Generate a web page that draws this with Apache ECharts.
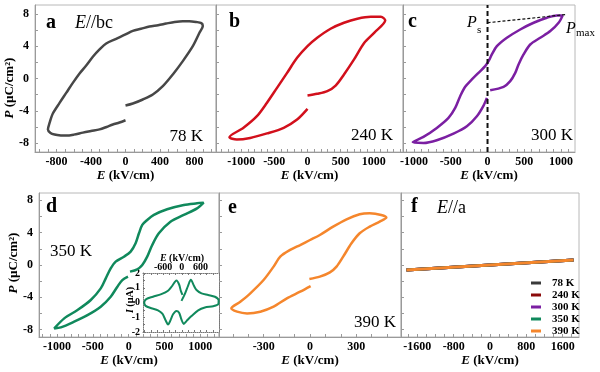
<!DOCTYPE html>
<html><head><meta charset="utf-8">
<script src="https://cdn.jsdelivr.net/npm/echarts@6/dist/echarts.min.js"></script>
<style>html,body{margin:0;padding:0;background:#fff}#c{width:600px;height:372px}</style>
</head><body><div id="c"></div>
<script>
// ---------- data ----------
// panel a (78 K, E//bc)
const aE = [0,85,201,317,433,549,665,781,858,897, 880,819,740,665,570,471,378,278,180,85, 0,-108,-224,-301,-379,-456,-533,-611,-688,-765,-843,-881,-900, -870,-823,-750,-688,-600,-495,-400,-301,-220,-147,-70,0];
const aP = [-3.35,-3.1,-2.6,-1.98,-0.95,0.5,2.15,4.0,5.66,6.5, 6.85,7.0,7.1,7.1,7.0,6.8,6.6,6.45,6.15,5.9, 5.45,4.92,4.34,3.6,2.69,1.61,0.62,-0.54,-1.78,-3.02,-4.34,-5.5,-6.32, -6.75,-6.94,-7.05,-7.07,-6.95,-6.7,-6.5,-6.3,-6.0,-5.7,-5.45,-5.17];
// panel b (240 K)
const bE = [0,146,298,424,550,702,854,1005,1172, 1106,955,752,550,348,146,0,-157,-308,-460,-611,-763,-965,-1177, -1066,-864,-611,-359,-157,0];
const bP = [-2.1,-1.9,-1.57,-0.87,0.5,2.36,4.4,5.66,7.2, 7.64,7.64,7.4,6.9,6.16,5.04,4.0,2.56,0.7,-1.16,-3.0,-4.67,-6.1,-7.27, -7.56,-7.36,-6.8,-6.1,-5.08,-3.76];
// panel c (300 K)
const cE = [36,218,309,377,422,490,581,717,854,967,1022, 944,808,627,445,263,127,59,14,-32,-123,-213,-304,-372,-440,-531,-690,-872,-1017, -872,-690,-463,-281,-145,-54,-9];
const cP = [-1.45,-1.03,-0.33,0.7,1.74,2.98,4.21,5.04,5.87,6.9,7.81, 7.81,7.52,6.9,6.07,5.04,4.0,2.98,2.15,1.53,0.7,-0.12,-1.03,-2.19,-3.64,-4.88,-6.12,-7.23,-7.89, -7.98,-7.64,-6.82,-5.91,-4.67,-3.35,-2.4];
const cZeroE = [0, 0];
const cZeroP = [-9.1, 9.1];
const cPsE = [0, 1080];
const cPsP = [6.9, 7.93];
// panel d (350 K)
const dE = [19,120,190,259,329,421,583,769,954,1046, 954,769,537,352,259,190,144,97,28,-65,-181,-250,-319,-389,-528,-713,-898,-1037, -945,-759,-574,-389,-250,-157,-88,-9];
const dP = [-0.82,-0.54,0,1.03,2.47,3.92,5.36,6.19,7.0,7.71, 7.63,7.42,6.89,6.19,5.57,4.95,3.92,2.68,1.65,1.03,0.41,-0.41,-1.65,-2.89,-4.33,-5.57,-6.6,-7.84, -7.71,-7.0,-6.19,-5.15,-3.92,-2.68,-1.86,-1.44];
// inset of d: current I (uA) vs E
const insE = [-10,97,205,292,389,475,637,853,1069,1188, 1177,1015,745,529,313,151,65,-11,-86,-173,-281,-367,-443,-518,-626,-767,-983,-1166,-1210, -1145,-929,-659,-443,-302,-173,-86,-32,22];
const insI = [0.11,0.57,1.15,1.54,1.15,0.85,0.62,0.51,0.39,0.16, -0.11,-0.25,-0.34,-0.53,-0.92,-1.26,-1.45,-1.15,-0.69,-0.57,-0.8,-1.22,-1.49,-1.22,-0.76,-0.53,-0.39,-0.23,0, 0.23,0.39,0.57,0.8,1.15,1.49,1.22,0.8,0.52];
// panel e (390 K)
const eE = [-4,64,129,172,215,269,322,387,452,495, 462,387,322,237,150,64,0,-64,-129,-193,-236,-301,-387,-452,-510, -473,-408,-322,-236,-150,-64,4];
const eP = [-1.73,-1.44,-0.91,-0.2,1.03,2.68,3.92,4.74,5.36,5.86, 6.19,6.39,6.27,5.65,4.74,3.71,3.09,2.47,1.86,1.03,-0.2,-1.86,-3.5,-4.54,-5.36, -5.77,-5.98,-5.77,-5.15,-4.12,-3.3,-2.6];
// panel f (E//a), all temperatures
const fNames = ['78 K','240 K','300 K','350 K','390 K'];
const fE = [-1840,-920,0,920,1840];
const fP78  = [-0.62,-0.31,0.0,0.31,0.62];
const fP240 = [-0.61,-0.30,0.0,0.30,0.61];
const fP300 = [-0.63,-0.32,0.0,0.31,0.63];
const fP350 = [-0.62,-0.31,0.0,0.31,0.62];
const fP390 = [-0.62,-0.31,0.0,0.31,0.62];
// tick labels
const aXLabels = [-800,-400,0,400,800];
const bXLabels = [-1000,-500,0,500,1000];
const cXLabels = [-1000,-500,0,500,1000];
const dXLabels = [-1000,-500,0,500,1000];
const eXLabels = [-300,0,300];
const fXLabels = [-1600,-800,0,800,1600];
const pLabels = [-8,-4,0,4,8];
const insXLabels = [-600,0,600];
const insYLabels = [-2,-1,0,1,2];

// ---------- helpers ----------
const SERIF = 'Liberation Serif';
const AX = '#9a9a9a';
const plain = v => String(v);
function range(a, b, s){ const r=[]; for(let v=a; v<=b+1e-9; v+=s) r.push(+v.toFixed(6)); return r; }
function pairs(E, P){ return E.map((e,i)=>[e,P[i]]); }
const nameStyle = (fs)=>({fontFamily:SERIF, fontWeight:'bold', fontSize:fs, color:'#000',
  rich:{i:{fontFamily:SERIF, fontWeight:'bold', fontStyle:'italic', fontSize:fs, color:'#000'}}});

function xAx(g, min, max, labels, ticks){
  return {type:'value', gridIndex:g, min, max, position:'bottom',
    axisLine:{show:true, onZero:false, lineStyle:{color:AX, width:1}},
    axisTick:{show:true, inside:true, length:3, customValues:ticks, lineStyle:{color:AX}},
    axisLabel:{show:true, customValues:labels, formatter:plain, margin:4, fontFamily:SERIF, fontWeight:'bold', fontSize:12, color:'#000'},
    splitLine:{show:false},
    name:'{i|E} (kV/cm)', nameLocation:'middle', nameGap:14, nameTextStyle:nameStyle(13)};
}
function yAx(g, min, max, showLabels){
  return {type:'value', gridIndex:g, min, max, position:'left',
    axisLine:{show:true, onZero:false, lineStyle:{color:AX, width:1}},
    axisTick:{show:true, inside:true, length:3, customValues:range(-8,8,2), lineStyle:{color:AX}},
    axisLabel:{show:showLabels, customValues:pLabels, formatter:plain, margin:6, fontFamily:SERIF, fontWeight:'bold', fontSize:12, color:'#000'},
    splitLine:{show:false}};
}
function loop(name, idx, E, P, color, w){
  return {name, type:'line', xAxisIndex:idx, yAxisIndex:idx, data:pairs(E,P), showSymbol:false, symbol:'none',
    smooth:0.3, lineStyle:{color, width:w||2.5}, itemStyle:{color}, silent:true, z:3};
}
function txt(x, y, text, opt){
  const o = opt||{};
  const fs = o.fs||17;
  return {type:'text', x, y, rotation:o.rot||0, z:100, silent:true,
    style:{text, fill:'#000', fontFamily:SERIF, fontSize:fs, fontWeight:o.bold?'bold':'normal', fontStyle:o.italic?'italic':'normal',
      textAlign:o.align||'left', textVerticalAlign:'middle', align:o.align||'left', verticalAlign:'middle',
      rich:{i:{fontFamily:SERIF, fontSize:fs, fontWeight:o.bold?'bold':'normal', fontStyle:'italic', fill:'#000', color:'#000'}}}};
}

const gridBase = {show:true, borderColor:'#b8b8b8', borderWidth:1, backgroundColor:'transparent', containLabel:false};
const grids = [
  Object.assign({left:35, top:5, width:181, height:147}, gridBase),
  Object.assign({left:216, top:5, width:187, height:147}, gridBase),
  Object.assign({left:403, top:5, width:172, height:147}, gridBase),
  Object.assign({left:39, top:193, width:180, height:144}, gridBase),
  Object.assign({left:219, top:193, width:182, height:144}, gridBase),
  Object.assign({left:401, top:193, width:178, height:144}, gridBase),
  {show:true, left:143, top:273, width:76, height:59, backgroundColor:'#fff', borderWidth:0, containLabel:false}
];

const xAxes = [
  xAx(0,-1050,1050,aXLabels,range(-1000,1000,100)),
  xAx(1,-1380,1440,bXLabels,range(-1300,1400,100)),
  xAx(2,-1150,1190,cXLabels,range(-1100,1100,100)),
  xAx(3,-1250,1260,dXLabels,range(-1200,1200,100)),
  xAx(4,-590,590,eXLabels,range(-500,500,100)),
  xAx(5,-1960,1960,fXLabels,range(-1800,1800,200)),
  {type:'value', gridIndex:6, min:-1250, max:1200, position:'top',
    axisLine:{show:true, onZero:false, lineStyle:{color:'#777', type:'dotted'}},
    axisTick:{show:true, inside:true, length:2, customValues:range(-1200,1200,200), lineStyle:{color:'#777'}},
    axisLabel:{show:true, customValues:insXLabels, formatter:plain, margin:1, fontFamily:SERIF, fontWeight:'bold', fontSize:10, color:'#000'},
    splitLine:{show:false}},
  {type:'value', gridIndex:6, min:-1250, max:1200, position:'bottom',
    axisLine:{show:true, onZero:false, lineStyle:{color:'#777', type:'dotted'}},
    axisTick:{show:true, inside:true, length:2, customValues:range(-1200,1200,200), lineStyle:{color:'#777'}},
    axisLabel:{show:false}, splitLine:{show:false}}
];
const yAxes = [
  yAx(0,-9.1,9.1,true), yAx(1,-9.1,9.1,false), yAx(2,-9.1,9.1,false),
  yAx(3,-8.9,8.9,true), yAx(4,-8.9,8.9,false), yAx(5,-8.9,8.9,false),
  {type:'value', gridIndex:6, min:-2, max:2, position:'left',
    axisLine:{show:true, onZero:false, lineStyle:{color:'#777', type:'dotted'}},
    axisTick:{show:true, inside:true, length:2, customValues:range(-2,2,0.5), lineStyle:{color:'#777'}},
    axisLabel:{show:true, customValues:insYLabels, formatter:plain, margin:3, fontFamily:SERIF, fontWeight:'bold', fontSize:10, color:'#000'},
    splitLine:{show:false}},
  {type:'value', gridIndex:6, min:-2, max:2, position:'right',
    axisLine:{show:true, onZero:false, lineStyle:{color:'#777', type:'dotted'}},
    axisTick:{show:false}, axisLabel:{show:false}, splitLine:{show:false}}
];

const fColors = ['#3a3a3a','#8b0a0a','#7b1fa2','#10895c','#f5862c'];
const fData = [fP78, fP240, fP300, fP350, fP390];

const series = [
  loop('a', 0, aE, aP, '#474747'),
  loop('b', 1, bE, bP, '#d2101c'),
  loop('c', 2, cE, cP, '#7b1fa2'),
  {name:'c0', type:'line', xAxisIndex:2, yAxisIndex:2, data:pairs(cZeroE,cZeroP), showSymbol:false, symbol:'none',
    lineStyle:{color:'#111', width:2, type:[5,3]}, silent:true, z:4},
  {name:'cps', type:'line', xAxisIndex:2, yAxisIndex:2, data:pairs(cPsE,cPsP), showSymbol:false, symbol:'none',
    lineStyle:{color:'#111', width:1.2, type:[3,2]}, silent:true, z:4},
  loop('d', 3, dE, dP, '#10895c'),
  loop('e', 4, eE, eP, '#f5862c'),
  Object.assign(loop('ins', 6, insE, insI, '#10895c', 2), {z:5}),
];
fNames.forEach((n,i)=>{
  series.push({name:n, type:'line', xAxisIndex:5, yAxisIndex:5, data:pairs(fE, fData[i]), showSymbol:false, symbol:'none',
    lineStyle:{color:fColors[i], width:3}, itemStyle:{color:fColors[i]}, silent:true, z:3+i});
});

const graphics = [
  txt(10, 88, '{i|P} (µC/cm²)', {fs:13, bold:true, align:'center', rot:Math.PI/2}),
  txt(14, 263, '{i|P} (µC/cm²)', {fs:13, bold:true, align:'center', rot:Math.PI/2}),
  txt(46, 23, 'a', {fs:20, bold:true}),
  txt(75, 23, '{i|E}//bc', {fs:18}),
  txt(203, 137, '78 K', {fs:17, align:'right'}),
  txt(229, 22, 'b', {fs:20, bold:true}),
  txt(393, 136, '240 K', {fs:17, align:'right'}),
  txt(408, 22, 'c', {fs:20, bold:true}),
  txt(573, 136, '300 K', {fs:17, align:'right'}),
  txt(467, 23, 'P', {fs:16, italic:true}),
  txt(477, 30, 's', {fs:11}),
  txt(566, 29, 'P', {fs:16, italic:true}),
  txt(576, 33, 'max', {fs:11}),
  txt(46, 207, 'd', {fs:20, bold:true}),
  txt(50, 252, '350 K', {fs:17}),
  txt(228, 208, 'e', {fs:20, bold:true}),
  txt(396, 323, '390 K', {fs:17, align:'right'}),
  txt(411, 207, 'f', {fs:20, bold:true}),
  txt(437, 208, '{i|E}//a', {fs:18}),
  txt(182, 258, '{i|E} (kV/cm)', {fs:10, bold:true, align:'center'}),
  txt(130, 300, '{i|I} (µA)', {fs:10, bold:true, align:'center', rot:Math.PI/2})
];

const chart = echarts.init(document.getElementById('c'), null, {renderer:'canvas'});
chart.setOption({
  animation:false,
  backgroundColor:'#fff',
  grid:grids, xAxis:xAxes, yAxis:yAxes, series,
  legend:{data:fNames, orient:'vertical', left:526, top:272, itemWidth:10, itemHeight:3, itemGap:0, icon:'rect', selectedMode:false,
    textStyle:{fontFamily:SERIF, fontWeight:'bold', fontSize:11, color:'#000', lineHeight:12, padding:[0,0,0,6]}},
  graphic:graphics
});
</script></body></html>
